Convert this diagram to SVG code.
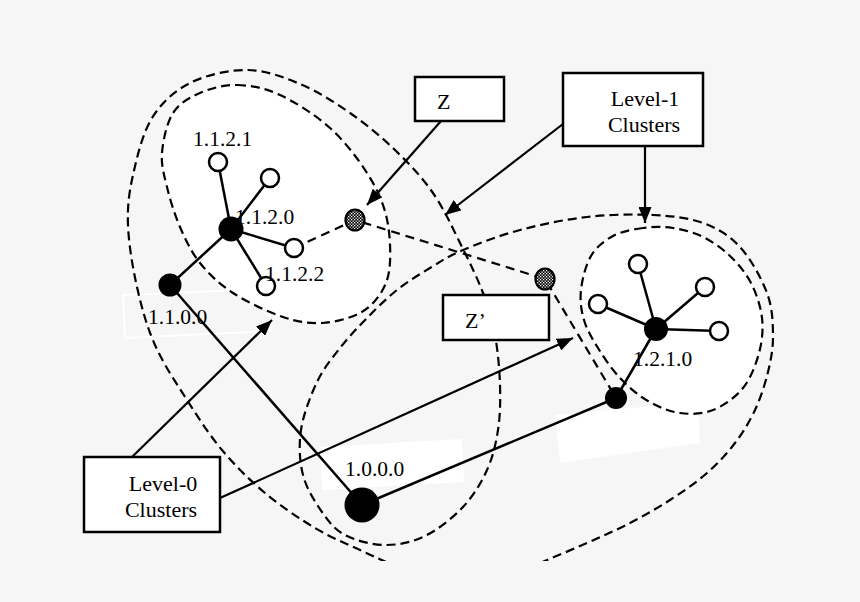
<svg xmlns="http://www.w3.org/2000/svg" width="860" height="602" viewBox="0 0 860 602">
<style>
.bg{fill:#f6f6f6}
.lbl{font-family:"Liberation Serif","Times New Roman",serif;font-size:21.5px;fill:#000}
.btxt{font-family:"Liberation Serif","Times New Roman",serif;font-size:22px;fill:#000}
.box{fill:#fff;stroke:#000;stroke-width:2.5}
.clu{fill:none;stroke:#000;stroke-width:2.2;stroke-dasharray:9 5}
.cluw{fill:#fff;stroke:#000;stroke-width:2.2;stroke-dasharray:9 5}
.lnk{fill:none;stroke:#000;stroke-width:2.2;stroke-dasharray:9 6}
.edge{stroke:#000;stroke-width:2.5;fill:none}
.arr{stroke:#000;stroke-width:2.2;fill:none;marker-end:url(#ah)}
.bn{fill:#000}
.wn{fill:#fff;stroke:#000;stroke-width:2.5}
.gw{fill:url(#chk);stroke:#000;stroke-width:2.2}
.wr{fill:#fff}
</style>
<defs>
<marker id="ah" markerUnits="userSpaceOnUse" markerWidth="17" markerHeight="13" refX="16" refY="6.5" orient="auto">
<path d="M0,0 L16,6.5 L0,13 z" fill="#000"/>
</marker>
<pattern id="chk" patternUnits="userSpaceOnUse" width="3" height="3">
<rect width="3" height="3" fill="#000"/>
<rect width="1.3" height="1.3" fill="#fff"/>
<rect x="1.5" y="1.5" width="1.3" height="1.3" fill="#fff"/>
</pattern>
<clipPath id="crop"><rect x="0" y="0" width="860" height="561"/></clipPath>
</defs>
<rect class="bg" x="0" y="0" width="860" height="602"/>

<g id="label-backgrounds">
<polygon points="123,295 268,289 270,331 125,338" fill="none" stroke="#fff" stroke-width="2"/>
<polygon class="wr" points="320,447 462,439 464,482 322,490"/>
<polygon class="wr" points="555,415 698,402 700,443 560,463"/>
</g>

<g id="clusters">
<path id="cluster-1.1.2" class="cluw" d="M237,85 C250.3,85.3 264.5,87.8 280,95 S315.5,115 330,128 S357.7,158.5 367,173 S382.2,200.2 386,215 S390.7,249.3 390,262 S387,282.5 382,291 S370,307.7 360,313 S334.8,322.3 322,323 S297.8,322 283,317 S246.8,302 233,293 S208.8,274 200,263 S185.5,239.7 180,227 S170,199.3 167,187 S161,165.3 162,153 S166.7,123 173,113 S189.3,97.7 200,93 S223.7,84.7 237,85 Z"/>
<path id="cluster-1.2.1" class="cluw" d="M643,228 C633,229.3 621.7,231.3 613,236 S596.3,247 591,256 S582.2,279.3 581,290 S581.2,310.3 584,320 S592,338.3 598,348 S611.7,369.2 620,378 S638,395.2 648,401 S669.2,411.5 680,413 S702.5,414.2 713,410 S735.3,397.5 743,388 S755.8,364.7 759,353 S763.3,329.7 762,318 S756.3,293.3 751,283 S738,263.7 730,256 S712.5,241.7 703,237 S683,229.5 673,228 S653,226.7 643,228 Z"/>
<path id="level1-outline" class="clu" clip-path="url(#crop)" d="M540,563 C555.7,556.3 572,549.7 587,543 S616.2,530.2 630,523 S657.2,508.3 670,500 S696.2,482.5 707,473 S727,453.5 735,443 S749.5,421.8 755,410 S765,384.5 768,372 S773.2,348.2 773,335 S772.5,307.7 767,293 S750.7,258.7 740,247 S717.5,228.3 703,223 S672.3,216 653,215 S609.2,214.5 587,217 S540.7,224.5 520,230 S478,243.7 463,250 S441,261.3 430,268 S407.5,281.7 397,290 S376.5,308.3 367,318 S348.3,337.3 340,348 S323.5,368.3 317,382 S303.3,414.5 301,430 S299.5,461.3 303,475 S315,502 322,512 S334.5,529.5 345,535 S371.7,544.8 385,545 S412,542.3 425,536 S452.7,518 463,507 S481.2,482.8 487,470 S495.8,444.2 498,430 S500.5,400.8 500,385 S497.8,350.3 495,335 S488.5,307.7 483,293 S470.3,263.7 462,247 S444.2,209.2 433,193 S408.8,163.3 395,150 S365.8,124 350,113 S317.2,91.2 300,84 S265.3,70.2 247,70 S205.8,75 190,83 S161.5,102.7 152,118 S137,157.2 133,175 S127.3,206.3 128,225 S132.5,267 137,287 S146.7,326.2 155,345 S175.8,382.5 187,400 S209,434.5 222,450 S249.5,480 265,493 S298.8,518.3 315,528 S348.7,544.7 362,551 S384,561 395,566"/>
</g>

<g id="connectors">
<path class="lnk" d="M294,248 L355,220 L545,279 L616,398"/>
<line class="edge" x1="231" y1="229" x2="218" y2="162"/>
<line class="edge" x1="231" y1="229" x2="270" y2="178"/>
<line class="edge" x1="231" y1="229" x2="294" y2="248"/>
<line class="edge" x1="231" y1="229" x2="266" y2="286"/>
<line class="edge" x1="231" y1="229" x2="170" y2="285"/>
<line class="edge" x1="170" y1="285" x2="362" y2="505"/>
<line class="edge" x1="362" y1="505" x2="616" y2="398"/>
<line class="edge" x1="616" y1="398" x2="656" y2="329"/>
<line class="edge" x1="656" y1="329" x2="638" y2="264"/>
<line class="edge" x1="656" y1="329" x2="705" y2="287"/>
<line class="edge" x1="656" y1="329" x2="598" y2="304"/>
<line class="edge" x1="656" y1="329" x2="719" y2="331"/>
<line class="arr" x1="441" y1="121" x2="367" y2="205"/>
<line class="arr" x1="563" y1="124" x2="445" y2="215"/>
<line class="arr" x1="645" y1="146" x2="645" y2="223"/>
<line class="arr" x1="132" y1="457" x2="272" y2="320"/>
<line class="arr" x1="220" y1="498" x2="573" y2="338"/>
</g>

<g id="box-Z">
<rect class="box" x="415" y="77" width="89" height="44"/>
<text class="btxt" x="437" y="109">Z</text>
</g>
<g id="box-level1">
<rect class="box" x="563" y="73" width="140" height="73"/>
<text class="btxt" x="645" y="106" text-anchor="middle">Level-1</text>
<text class="btxt" x="644" y="132" text-anchor="middle">Clusters</text>
</g>
<g id="box-Zp">
<rect class="box" x="443" y="295" width="106" height="45"/>
<text class="btxt" x="465" y="328">Z’</text>
</g>
<g id="box-level0">
<rect class="box" x="84" y="457" width="136" height="75"/>
<text class="btxt" x="163" y="491" text-anchor="middle">Level-0</text>
<text class="btxt" x="161" y="517" text-anchor="middle">Clusters</text>
</g>

<g id="node-1.1.2.0"><circle class="bn" cx="231" cy="229" r="12.5"/><text class="lbl" x="235" y="224">1.1.2.0</text></g>
<g id="node-1.1.2.1"><circle class="wn" cx="218" cy="162" r="9"/><text class="lbl" x="193" y="146">1.1.2.1</text></g>
<g id="node-1.1.2.x"><circle class="wn" cx="270" cy="178" r="9"/></g>
<g id="node-1.1.2.y"><circle class="wn" cx="294" cy="248" r="9"/></g>
<g id="node-1.1.2.2"><circle class="wn" cx="266" cy="286" r="9"/><text class="lbl" x="265" y="281">1.1.2.2</text></g>
<g id="node-1.1.0.0"><circle class="bn" cx="170" cy="285" r="11.5"/><text class="lbl" x="148" y="324">1.1.0.0</text></g>
<g id="node-1.0.0.0"><circle class="bn" cx="362" cy="505" r="17.5"/><text class="lbl" x="345" y="476">1.0.0.0</text></g>
<g id="node-1.2.0.0"><circle class="bn" cx="616" cy="398" r="11"/></g>
<g id="node-1.2.1.0"><circle class="bn" cx="656" cy="329" r="12"/><text class="lbl" x="633" y="366">1.2.1.0</text></g>
<g id="node-1.2.1.a"><circle class="wn" cx="638" cy="264" r="9"/></g>
<g id="node-1.2.1.b"><circle class="wn" cx="705" cy="287" r="9"/></g>
<g id="node-1.2.1.c"><circle class="wn" cx="598" cy="304" r="9"/></g>
<g id="node-1.2.1.d"><circle class="wn" cx="719" cy="331" r="9"/></g>
<g id="gateway-1"><ellipse class="gw" cx="355" cy="220" rx="9.5" ry="10.5"/></g>
<g id="gateway-2"><ellipse class="gw" cx="545" cy="279" rx="9.5" ry="10.5"/></g>
</svg>
